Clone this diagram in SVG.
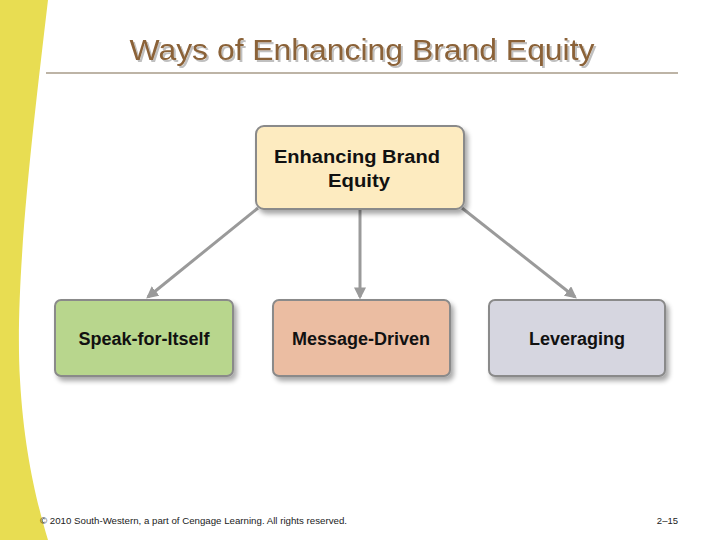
<svg xmlns="http://www.w3.org/2000/svg" width="720" height="540" viewBox="0 0 720 540">
<style>
.box{stroke:#8a8a8a;stroke-width:2}
.lbl{font-family:"Liberation Sans",Arial,sans-serif;font-weight:bold;font-size:18px;fill:#111;text-anchor:middle}
.conn{stroke:#9a9a9a;stroke-width:3;fill:none;marker-end:url(#ah)}
.foot{font-family:"Liberation Sans",Arial,sans-serif;font-size:9.5px;fill:#222}
</style>
<defs>
<marker id="ah" viewBox="0 0 10 10" refX="8" refY="5" markerWidth="4" markerHeight="4" orient="auto" markerUnits="strokeWidth">
<path d="M0,0 L10,5 L0,10 Z" fill="#9a9a9a"/>
</marker>
<filter id="sh" x="-10%" y="-10%" width="130%" height="140%">
<feGaussianBlur in="SourceAlpha" stdDeviation="2.5"/>
<feOffset dx="3" dy="4" result="b"/>
<feComponentTransfer><feFuncA type="linear" slope="0.35"/></feComponentTransfer>
<feMerge><feMergeNode/><feMergeNode in="SourceGraphic"/></feMerge>
</filter>
<filter id="tsh" x="-5%" y="-20%" width="110%" height="150%">
<feOffset in="SourceAlpha" dx="2" dy="2"/>
<feComponentTransfer><feFuncA type="linear" slope="0.25"/></feComponentTransfer>
<feMerge><feMergeNode/><feMergeNode in="SourceGraphic"/></feMerge>
</filter>
</defs>
<rect width="720" height="540" fill="#fff"/>
<path d="M0,0 L48,0 C34,120 14,280 20,380 C24,450 36,500 48,540 L0,540 Z" fill="#E8DD52"/>
<g id="title">
<text x="362" y="60" font-family="'Liberation Sans',Arial,sans-serif" font-size="30" fill="#8B6238" text-anchor="middle" textLength="465" lengthAdjust="spacingAndGlyphs" filter="url(#tsh)">Ways of Enhancing Brand Equity</text>
<line x1="46" y1="73" x2="678" y2="73" stroke="#7d6a4e" stroke-width="1.2"/>
</g>
<g id="connectors">
<line class="conn" x1="258" y1="208" x2="148" y2="297"/>
<line class="conn" x1="360" y1="209" x2="360" y2="297"/>
<line class="conn" x1="462" y1="208" x2="575" y2="297"/>
</g>
<g id="root">
<rect class="box" x="256" y="126" width="208" height="83" rx="8" fill="#FDEBC0" filter="url(#sh)"/>
<text class="lbl" x="357" y="163" textLength="166" lengthAdjust="spacingAndGlyphs">Enhancing Brand</text>
<text class="lbl" x="359" y="187" textLength="62" lengthAdjust="spacingAndGlyphs">Equity</text>
</g>
<g id="speak">
<rect class="box" x="55" y="300" width="178" height="76" rx="6" fill="#B8D68D" filter="url(#sh)"/>
<text class="lbl" x="144" y="345">Speak-for-Itself</text>
</g>
<g id="message">
<rect class="box" x="273" y="300" width="177" height="76" rx="6" fill="#EBBDA2" filter="url(#sh)"/>
<text class="lbl" x="361" y="345">Message-Driven</text>
</g>
<g id="leveraging">
<rect class="box" x="489" y="300" width="176" height="76" rx="6" fill="#D6D6E0" filter="url(#sh)"/>
<text class="lbl" x="577" y="345">Leveraging</text>
</g>
<g id="footer">
<text class="foot" x="40" y="524" textLength="307" lengthAdjust="spacingAndGlyphs">© 2010 South-Western, a part of Cengage Learning. All rights reserved.</text>
<text class="foot" x="678" y="524" text-anchor="end">2–15</text>
</g>
</svg>
